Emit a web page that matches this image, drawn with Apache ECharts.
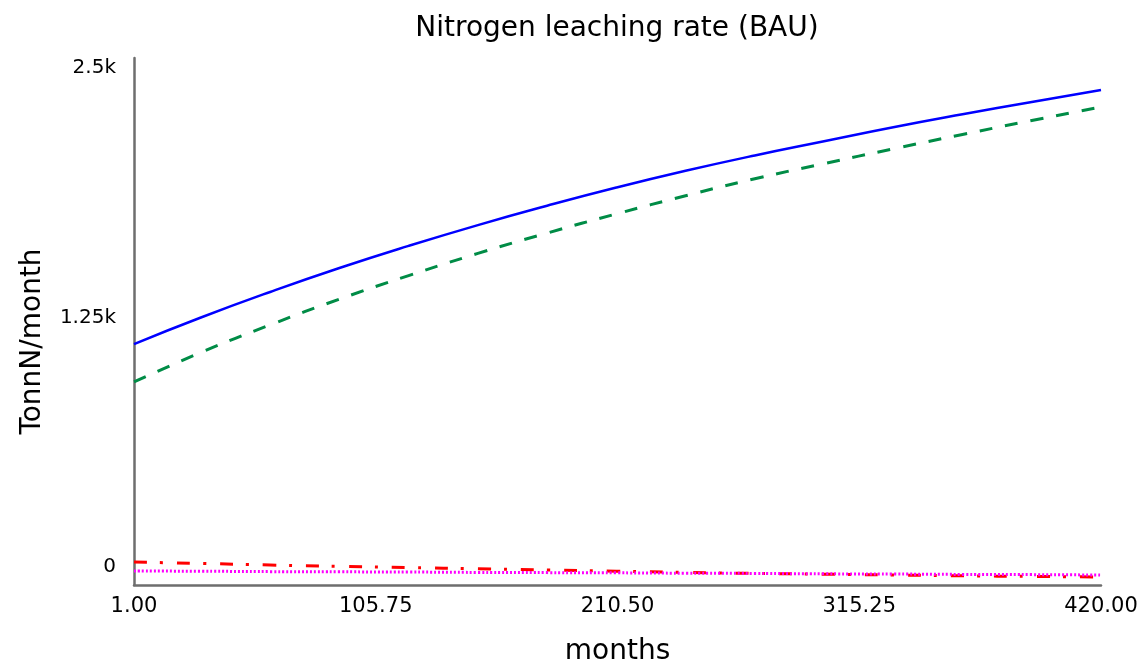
<!DOCTYPE html>
<html>
<head>
<meta charset="utf-8">
<script src="https://cdn.jsdelivr.net/npm/echarts@6/dist/echarts.min.js"></script>
<style>
  html, body { margin: 0; padding: 0; background: #fff; }
  #main { width: 1138px; height: 666px; }
</style>
</head>
<body>
<div id="main"></div>
<script>
// months sampled along the x axis
var months = [1, 30, 60, 90, 120, 150, 180, 210, 240, 270, 300, 330, 360, 390, 420];
// values (TonnN/month)
var blueSolid = [1117, 1250, 1378, 1498, 1609, 1713, 1810, 1901, 1985, 2062, 2133, 2203, 2268, 2330, 2390];
var greenDash = [927, 1075, 1213, 1342, 1460, 1571, 1673, 1769, 1860, 1945, 2021, 2095, 2167, 2237, 2305];
var redDashDot = [25, 18, 10, 3, -3, -9, -15, -21, -27, -32, -36, -40, -44, -47, -50];
var magentaDot = [-20, -21, -23, -24, -25, -27, -28, -29, -31, -32, -34, -35, -37, -38, -40];
var xTicks = [1, 105.75, 210.5, 315.25, 420];
var yTicks = [0, 1250, 2500];

var font = 'DejaVu Sans, sans-serif';

function pairs(vals) {
  return months.map(function (m, i) { return [m, vals[i]]; });
}

var chart = echarts.init(document.getElementById('main'));

var option = {
  backgroundColor: '#fff',
  animation: false,
  title: {
    text: 'Nitrogen leaching rate (BAU)',
    left: 612,
    top: 10,
    textAlign: 'center',
    textStyle: { fontFamily: font, fontSize: 28, fontWeight: 'normal', color: '#000' }
  },
  grid: { left: 134, right: 37, top: 58, bottom: 81, outerBoundsMode: 'none', containLabel: false },
  xAxis: {
    type: 'value',
    min: 1,
    max: 420,
    name: 'months',
    nameLocation: 'middle',
    nameGap: 53,
    nameTextStyle: { fontFamily: font, fontSize: 28, color: '#000' },
    axisLine: { show: true, onZero: false, lineStyle: { color: '#6e6e6e', width: 2.5 } },
    axisTick: { show: false },
    splitLine: { show: false },
    axisLabel: {
      customValues: xTicks,
      fontFamily: font, fontSize: 21, color: '#000', margin: 11,
      formatter: function (v) { return v.toFixed(2); }
    }
  },
  yAxis: {
    type: 'value',
    min: -90,
    max: 2550,
    name: 'TonnN/month',
    nameLocation: 'middle',
    nameGap: 87,
    nameTextStyle: { fontFamily: font, fontSize: 28, color: '#000', padding: [0, 40, 0, 0] },
    axisLine: { show: true, onZero: false, lineStyle: { color: '#6e6e6e', width: 2.5 } },
    axisTick: { show: false },
    splitLine: { show: false },
    axisLabel: {
      customValues: yTicks,
      fontFamily: font, fontSize: 20, color: '#000', margin: 18,
      formatter: function (v) {
        if (v === 0) return '0';
        return (v / 1000) + 'k';
      }
    }
  },
  series: [
    {
      type: 'line', data: pairs(blueSolid), smooth: true, symbol: 'none',
      lineStyle: { color: '#0000ff', width: 2.5 }
    },
    {
      type: 'line', data: pairs(greenDash), smooth: true, symbol: 'none',
      lineStyle: { color: '#008c46', width: 3, type: [13, 13] }
    },
    {
      type: 'line', data: pairs(redDashDot), smooth: true, symbol: 'none',
      lineStyle: { color: '#ff0000', width: 3, type: [13, 13, 3, 14] }
    },
    {
      type: 'line', data: pairs(magentaDot), smooth: true, symbol: 'none',
      lineStyle: { color: '#ff00ff', width: 3, type: [2, 2] }
    }
  ]
};

chart.setOption(option);
</script>
</body>
</html>
